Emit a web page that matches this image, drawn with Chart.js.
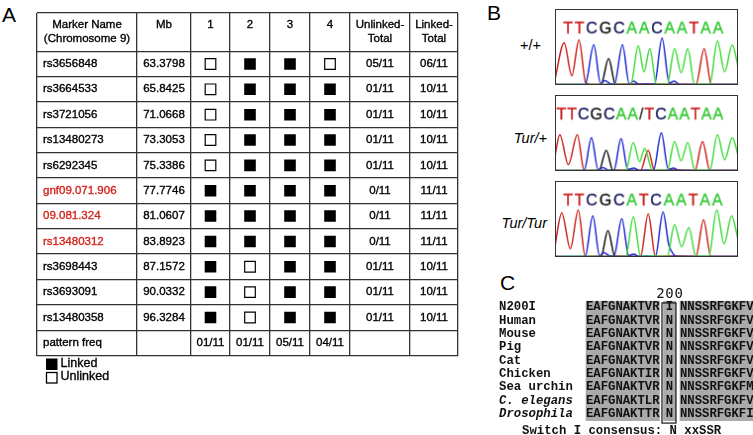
<!DOCTYPE html>
<html>
<head>
<meta charset="utf-8">
<script src="https://cdn.jsdelivr.net/npm/chart.js@4.4.1/dist/chart.umd.min.js"></script>
<style>
  body { margin: 0; width: 753px; height: 435px; position: relative; background: #fff; overflow: hidden; }
  canvas { position: absolute; display: block; }
  .trace { border: 1.5px solid #333; }
  .lbl { position: absolute; font-family: "Liberation Sans", Arial, sans-serif; color: #000; white-space: nowrap; }
  .panel { font-size: 21px; line-height: 21px; }
  .geno { font-size: 14.5px; line-height: 14px; text-align: right; width: 60px; }
</style>
</head>
<body>
<div class="lbl panel" style="left:2px;top:4px">A</div>
<div class="lbl panel" style="left:487px;top:2px">B</div>
<div class="lbl panel" style="left:500px;top:272px">C</div>
<div class="lbl geno" style="left:481px;top:38px">+/+</div>
<div class="lbl geno" style="left:487px;top:131px;font-style:italic">Tur/+</div>
<div class="lbl geno" style="left:487px;top:216px;font-style:italic">Tur/Tur</div>

<canvas id="table" width="470" height="400" style="left:0;top:0"></canvas>
<canvas id="wt" class="trace" width="183" height="76" style="left:555px;top:9px"></canvas>
<canvas id="het" class="trace" width="183" height="76" style="left:555px;top:95px"></canvas>
<canvas id="hom" class="trace" width="183" height="76" style="left:555px;top:181px"></canvas>
<canvas id="align" width="263" height="150" style="left:490px;top:285px"></canvas>

<script>
// ---------- Panel A: linkage table ----------
const markers = ['rs3656848', 'rs3664533', 'rs3721056', 'rs13480273', 'rs6292345', 'gnf09.071.906',
    '09.081.324', 'rs13480312', 'rs3698443', 'rs3693091', 'rs13480358'];
const positionsMb = ['63.3798', '65.8425', '71.0668', '73.3053', '75.3386', '77.7746',
    '81.0607', '83.8923', '87.1572', '90.0332', '96.3284'];
const candidate = [0, 0, 0, 0, 0, 1, 1, 1, 0, 0, 0];
// 1 = linked, 0 = unlinked
const pattern1 = [0, 0, 0, 0, 0, 1, 1, 1, 1, 1, 1];
const pattern2 = [1, 1, 1, 1, 1, 1, 1, 1, 0, 0, 0];
const pattern3 = [1, 1, 1, 1, 1, 1, 1, 1, 1, 1, 1];
const pattern4 = [0, 1, 1, 1, 1, 1, 1, 1, 1, 1, 1];
const unlinkedTotal = ['05/11', '01/11', '01/11', '01/11', '01/11', '0/11', '0/11', '0/11', '01/11', '01/11', '01/11'];
const linkedTotal = ['06/11', '10/11', '10/11', '10/11', '10/11', '11/11', '11/11', '11/11', '10/11', '10/11', '10/11'];
const patternFreq = ['01/11', '01/11', '05/11', '04/11'];
const headers = [['Marker Name', '(Chromosome 9)'], ['Mb'], ['1'], ['2'], ['3'], ['4'],
    ['Unlinked-', 'Total'], ['Linked-', 'Total']];

// ---------- Panel B: chromatograms (scan position, signal) ----------
const wtA = [[0, 0], [77, 0], [84.7, 40], [90.5, 13], [96.3, 37], [103, 0], [114, 0], [121.3, 37], [128, 12], [134.7, 37], [141.5, 0], [157, 0], [164.7, 45], [172, 13], [179.7, 41], [186, 16]];
const wtC = [[0, 0], [31, 0], [39.7, 41], [46.5, 1], [51, 4], [56, 1], [60.5, 0], [68.7, 41], [75.5, 0.5], [80, 3.5], [85, 0], [101, 0], [108.7, 48], [116, 1.5], [121, 3.5], [126, 0], [186, 0]];
const wtG = [[0, 0], [47, 0], [54.7, 27], [61.5, 0], [186, 0]];
const wtT = [[0, 3], [9.7, 43], [17.5, 9], [24.7, 46], [31.5, 2], [36, 0], [143, 0], [151.3, 37], [158.5, 0], [186, 0]];

const hetA = [[0, 0], [72, 0], [79.7, 29], [86, 9], [91, 23], [99, 0], [114, 0], [121.3, 30], [128, 10], [134.7, 29], [142, 0], [157, 0], [164.7, 37], [172, 11], [179.7, 34], [186, 14]];
const hetC = [[0, 0], [30, 0], [37.3, 34], [44, 1], [49, 3], [55, 0], [60, 0], [67.3, 33], [74, 1], [80, 2.5], [86, 0], [100, 0], [108, 39], [115, 1], [120, 2.5], [126, 0], [186, 0]];
const hetG = [[0, 0], [45, 0], [52.3, 21], [59, 0], [186, 0]];
const hetT = [[0, 12], [5.3, 37], [14, 6], [23, 37], [30, 0], [87, 0], [94.7, 21], [101, 0], [142, 0], [149.7, 30], [157, 0], [186, 0]];

const homA = [[0, 0], [72, 0], [79.7, 41], [87, 0], [114, 0], [121.3, 33], [128.5, 10], [135.7, 30], [143, 0], [156, 0], [164, 48], [171.5, 13], [179, 42], [186, 15]];
const homC = [[0, 0], [31, 0], [38.7, 42], [45.5, 1], [50, 4], [55, 1], [60, 0], [68, 39], [75, 1], [80, 2.5], [85, 0], [102, 0], [109.7, 46], [115.5, 12], [118, 6], [123, 0], [186, 0]];
const homG = [[0, 0], [47, 0], [54, 27], [61, 0], [186, 0]];
const homT = [[0, 8], [7.3, 45], [16, 8], [24, 48], [31, 0], [87, 0], [94.7, 44], [102, 0], [143, 0], [150.7, 38], [158, 0], [186, 0]];

const wtSeq = 'TTCGCAACAATAA';
const hetSeq = 'TTCGCAA/TCAATAA';
const homSeq = 'TTCGCATCAATAA';

// ---------- Panel C: alignment ----------
const species = ['N200I', 'Human', 'Mouse', 'Pig', 'Cat', 'Chicken', 'Sea urchin', 'C. elegans', 'Drosophila'];
const italicSpecies = ['C. elegans', 'Drosophila'];
const leftSeq = ['EAFGNAKTVR', 'EAFGNAKTVR', 'EAFGNAKTVR', 'EAFGNAKTVR', 'EAFGNAKTVR', 'EAFGNAKTIR', 'EAFGNAKTVR', 'EAFGNAKTLR', 'EAFGNAKTTR'];
const site200 = ['I', 'N', 'N', 'N', 'N', 'N', 'N', 'N', 'N'];
const rightSeq = ['NNSSRFGKFV', 'NNSSRFGKFV', 'NNSSRFGKFV', 'NNSSRFGKFV', 'NNSSRFGKFV', 'NNSSRFGKFV', 'NNSSRFGKFM', 'NNSSRFGKFV', 'NNSSRFGKFI'];
// residues left unshaded: [species, block, index]
const unshaded = [['N200I', 'site', 0], ['Chicken', 'left', 8], ['Sea urchin', 'right', 9], ['Drosophila', 'right', 9]];
const siteNumber = '200';
const consensus = 'Switch I consensus: N xxSSR';

// ================= table =================
const colWidths = [100, 54, 39, 40, 40, 40, 60, 48];
const headerH = 38.3, rowH = 25.35;
const colEdges = [0];
colWidths.forEach(w => colEdges.push(colEdges[colEdges.length - 1] + w));
const rowEdges = [0, headerH];
for (let i = 0; i <= markers.length; i++) rowEdges.push(headerH + (i + 1) * rowH);
const colMid = c => (colEdges[c] + colEdges[c + 1]) / 2;
const rowMid = r => headerH + (r + 0.5) * rowH;

const patterns = [pattern1, pattern2, pattern3, pattern4];
const linkedPts = [], unlinkedPts = [];
patterns.forEach((p, c) => p.forEach((v, r) => {
    (v ? linkedPts : unlinkedPts).push({ x: colMid(c + 2), y: rowMid(r) });
}));

const SANS = '"Liberation Sans", Arial, sans-serif';
// slightly heavier text, like the scanned original
function heavyText(ctx, t, x, y) {
    ctx.strokeStyle = ctx.fillStyle;
    ctx.lineWidth = 0.35;
    ctx.strokeText(t, x, y);
    ctx.fillText(t, x, y);
}

const tableText = {
    id: 'tableText',
    afterDatasetsDraw(chart) {
        const { ctx, scales: { x, y } } = chart;
        ctx.save();
        ctx.font = '11.5px ' + SANS;
        ctx.textBaseline = 'middle';
        ctx.fillStyle = '#000';
        ctx.textAlign = 'center';
        headers.forEach((lines, c) => lines.forEach((t, k) => {
            heavyText(ctx, t, x.getPixelForValue(colMid(c)), y.getPixelForValue(12 + 14 * k));
        }));
        markers.forEach((m, r) => {
            const py = y.getPixelForValue(rowMid(r));
            ctx.textAlign = 'left';
            ctx.fillStyle = candidate[r] ? '#d2231d' : '#000';
            heavyText(ctx, m, x.getPixelForValue(6), py);
            ctx.fillStyle = '#000';
            ctx.textAlign = 'center';
            heavyText(ctx, positionsMb[r], x.getPixelForValue(colMid(1)), py);
            heavyText(ctx, unlinkedTotal[r], x.getPixelForValue(colMid(6)), py);
            heavyText(ctx, linkedTotal[r], x.getPixelForValue(colMid(7)), py);
        });
        const fy = y.getPixelForValue(rowMid(markers.length));
        ctx.textAlign = 'left';
        heavyText(ctx, 'pattern freq', x.getPixelForValue(6), fy);
        ctx.textAlign = 'center';
        patternFreq.forEach((f, c) => heavyText(ctx, f, x.getPixelForValue(colMid(c + 2)), fy));

        // key below the table
        const ly = chart.chartArea.bottom;
        ctx.fillStyle = '#000';
        ctx.fillRect(46, ly + 3, 11.5, 11.5);
        ctx.fillStyle = '#fff';
        ctx.strokeStyle = '#000';
        ctx.lineWidth = 1.3;
        ctx.fillRect(46.5, ly + 17, 10.5, 10.5);
        ctx.strokeRect(46.5, ly + 17, 10.5, 10.5);
        ctx.fillStyle = '#000';
        ctx.textAlign = 'left';
        ctx.font = '12.5px ' + SANS;
        heavyText(ctx, 'Linked', 60.5, ly + 8.5);
        heavyText(ctx, 'Unlinked', 60.5, ly + 21.5);
        ctx.restore();
    }
};

const gridScale = (edges, reverse) => ({
    type: 'linear', min: 0, max: edges[edges.length - 1], reverse,
    afterBuildTicks: axis => { axis.ticks = edges.map(v => ({ value: v })); },
    ticks: { display: false },
    grid: { color: '#333', lineWidth: 1.3, drawTicks: false },
    border: { display: false }
});

new Chart(document.getElementById('table'), {
    type: 'scatter',
    data: {
        datasets: [
            { label: 'Linked', data: linkedPts, pointStyle: 'rect', pointRadius: 8.2, pointHoverRadius: 8.2,
              backgroundColor: '#000', borderColor: '#000', borderWidth: 0 },
            { label: 'Unlinked', data: unlinkedPts, pointStyle: 'rect', pointRadius: 7.5, pointHoverRadius: 7.5,
              backgroundColor: '#fff', borderColor: '#000', borderWidth: 1.2 }
        ]
    },
    options: {
        responsive: false, animation: false, events: [],
        layout: { padding: { left: 37, top: 13, right: 470 - 37 - colEdges[colEdges.length - 1], bottom: 400 - 13 - rowEdges[rowEdges.length - 1] } },
        plugins: { legend: { display: false }, tooltip: { enabled: false } },
        scales: { x: gridScale(colEdges, false), y: gridScale(rowEdges, true) }
    },
    plugins: [tableText]
});

// ================= chromatograms =================
const traceColors = { A: '#3fdc3a', C: '#1f2ad0', G: '#111111', T: '#cc2420' };
const letterColors = { A: '#35c935', C: '#17175e', G: '#111111', T: '#cc2222', '/': '#333' };

function chromatogram(id, traces, seq, seqLeft, gap) {
    const seqLabel = {
        id: 'seqLabel',
        afterDraw(chart) {
            const { ctx } = chart;
            ctx.save();
            ctx.font = '16px ' + SANS;
            ctx.textBaseline = 'middle';
            ctx.textAlign = 'left';
            let px = seqLeft;
            for (const ch of seq) {
                ctx.fillStyle = letterColors[ch];
                heavyText(ctx, ch, px, 19.5);
                px += ctx.measureText(ch).width + gap;
            }
            ctx.restore();
        }
    };
    new Chart(document.getElementById(id), {
        type: 'line',
        data: {
            datasets: ['A', 'C', 'G', 'T'].map(b => ({
                label: b,
                data: traces[b].map(([x, y]) => ({ x, y })),
                borderColor: traceColors[b],
                borderWidth: 1.5,
                pointRadius: 0,
                cubicInterpolationMode: 'monotone',
                fill: false
            }))
        },
        options: {
            responsive: false, animation: false, events: [],
            layout: { padding: 0 },
            plugins: { legend: { display: false }, tooltip: { enabled: false } },
            scales: {
                x: { type: 'linear', min: 1.5, max: 184.5, display: false },
                y: { type: 'linear', min: 0.5, max: 77, display: false }
            }
        },
        plugins: [seqLabel]
    });
}

chromatogram('wt', { A: wtA, C: wtC, G: wtG, T: wtT }, wtSeq, 7.2, 1.8);
chromatogram('het', { A: hetA, C: hetC, G: hetG, T: hetT }, hetSeq, 0.5, 1.0);
chromatogram('hom', { A: homA, C: homC, G: homG, T: homT }, homSeq, 7.2, 1.8);

// ================= alignment =================
const MONO = '"Liberation Mono", "Courier New", monospace';
const cw = 7.35;                 // px per residue
const seqX0 = 96;                // px offset of first residue in the canvas
const siteStart = 10.54, siteEnd = 12.18, rightStart = 12.79;
const blockStart = { left: 0, site: siteStart + 0.32, right: rightStart };
const rows = [...species, ''];

const shadeLeft = leftSeq.map(s => [0, s.length]);
const shadeSite = site200.map(() => [siteStart, siteEnd]);
const shadeRight = rightSeq.map(s => [rightStart, rightStart + s.length]);
const clearCells = species.map(sp => {
    const u = unshaded.find(e => e[0] === sp);
    if (!u) return null;
    if (u[1] === 'site') return [siteStart, siteEnd];
    return [blockStart[u[1]] + u[2], blockStart[u[1]] + u[2] + 1];
});

const alignText = {
    id: 'alignText',
    afterDatasetsDraw(chart) {
        const { ctx, scales: { x, y } } = chart;
        ctx.save();
        ctx.textBaseline = 'middle';
        ctx.fillStyle = '#111';
        species.forEach((sp, r) => {
            const py = y.getPixelForValue(r);
            ctx.font = (italicSpecies.includes(sp) ? 'italic ' : '') + 'bold 12.3px ' + MONO;
            ctx.textAlign = 'left';
            ctx.fillText(sp, 9, py);
            ctx.font = 'bold 12.3px ' + MONO;
            ctx.textAlign = 'center';
            [[leftSeq[r], blockStart.left], [site200[r], (siteStart + siteEnd) / 2 - 0.5], [rightSeq[r], blockStart.right]]
                .forEach(([s, st]) => {
                    for (let i = 0; i < s.length; i++) ctx.fillText(s[i], x.getPixelForValue(st + i + 0.5), py);
                });
        });
        // box around residue 200
        const bx0 = x.getPixelForValue(siteStart - 0.2), bx1 = x.getPixelForValue(siteEnd + 0.06);
        const by0 = y.getPixelForValue(-0.33), by1 = y.getPixelForValue(species.length - 0.32);
        ctx.strokeStyle = '#111';
        ctx.lineWidth = 1.2;
        ctx.strokeRect(bx0, by0, bx1 - bx0, by1 - by0);
        // residue number
        ctx.font = '14px "DejaVu Sans Mono", monospace';
        ctx.letterSpacing = '0.8px';
        ctx.textAlign = 'center';
        ctx.fillText(siteNumber, (bx0 + bx1) / 2 + 1, y.getPixelForValue(-0.95));
        ctx.letterSpacing = '0px';
        // consensus line
        ctx.font = 'bold 12.3px ' + MONO;
        ctx.textAlign = 'left';
        ctx.fillText(consensus, 32, y.getPixelForValue(species.length) + 4);
        ctx.restore();
    }
};

const GRAY = '#aaaaaa';
new Chart(document.getElementById('align'), {
    type: 'bar',
    data: {
        labels: rows,
        datasets: [
            { data: shadeLeft, backgroundColor: GRAY },
            { data: shadeSite, backgroundColor: GRAY },
            { data: shadeRight, backgroundColor: GRAY },
            { data: clearCells, backgroundColor: '#fff' }
        ]
    },
    options: {
        indexAxis: 'y',
        responsive: false, animation: false, events: [],
        datasets: { bar: { grouped: false, barPercentage: 1, categoryPercentage: 1, borderWidth: 0 } },
        layout: { padding: { top: 15.67, bottom: 1.0 } },
        plugins: { legend: { display: false }, tooltip: { enabled: false } },
        scales: {
            x: { type: 'linear', min: -seqX0 / cw, max: (263 - seqX0) / cw, display: false },
            y: { type: 'category', display: false }
        }
    },
    plugins: [alignText]
});
</script>
</body>
</html>
